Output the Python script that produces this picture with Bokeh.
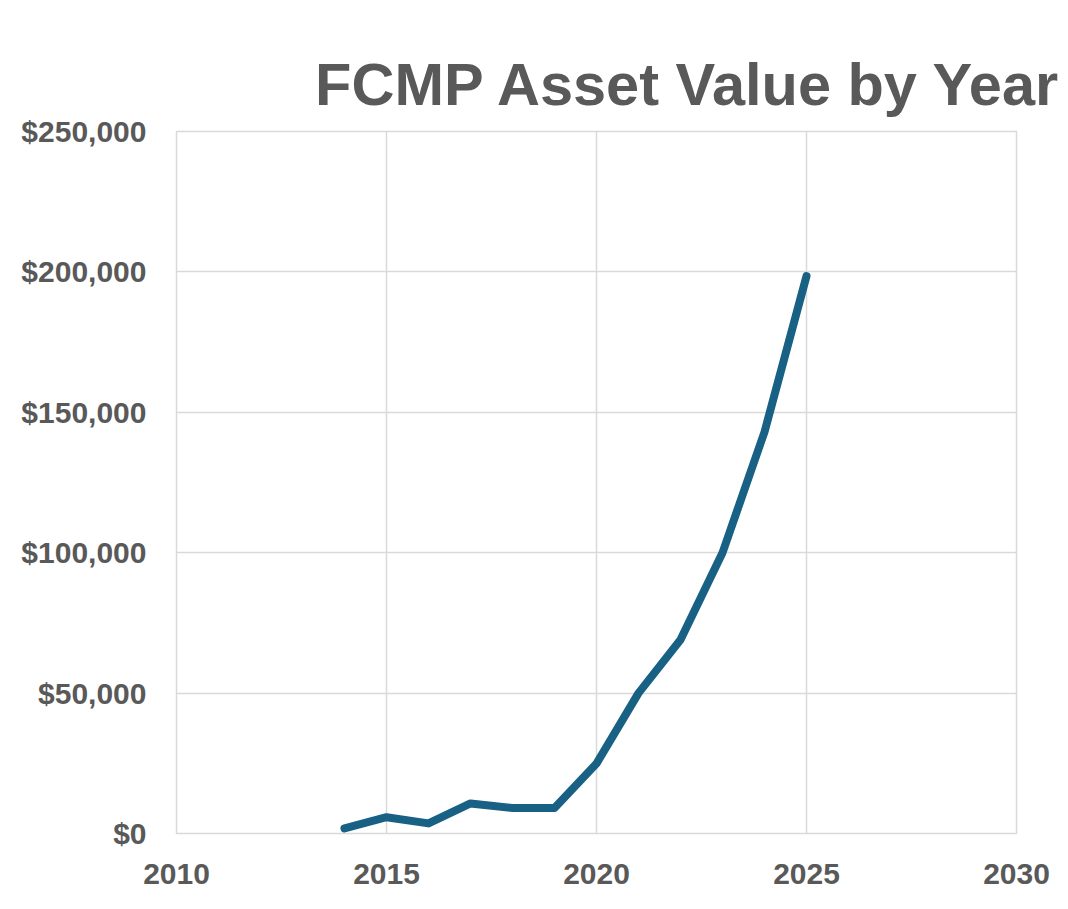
from bokeh.plotting import figure
from bokeh.models import Range1d, FixedTicker, NumeralTickFormatter
from bokeh.embed import file_html
from bokeh.resources import INLINE

years = [2014, 2015, 2016, 2017, 2018, 2019, 2020, 2021, 2022, 2023, 2024, 2025]
values = [1800, 5800, 3600, 10700, 9100, 9100, 24900, 50000, 69000, 100000, 143000, 198500]
x_ticks = [2010, 2015, 2020, 2025, 2030]
y_ticks = [0, 50000, 100000, 150000, 200000, 250000]
title_text = "FCMP Asset Value by Year"

GRAY = "#595959"
GRID = "#d9d9d9"

p = figure(width=1066, height=907, output_backend="svg", toolbar_location=None,
           x_range=Range1d(2010, 2030), y_range=Range1d(0, 250000),
           min_border_left=176, min_border_right=50, min_border_top=131, min_border_bottom=74,
           title=title_text)

p.title.align = "right"
p.title.text_font = "Liberation Sans"
p.title.text_font_style = "bold"
p.title.text_font_size = "59.5px"
p.title.text_color = GRAY
p.title.offset = -46
p.title.standoff = 28

p.line(years, values, line_color="#186184", line_width=8, line_cap="round", line_join="round")

for ax in (p.xaxis[0], p.yaxis[0]):
    ax.axis_line_color = None
    ax.major_tick_line_color = None
    ax.minor_tick_line_color = None
    ax.major_label_text_font = "Liberation Sans"
    ax.major_label_text_font_style = "bold"
    ax.major_label_text_font_size = "30px"
    ax.major_label_text_color = GRAY

p.xaxis.ticker = FixedTicker(ticks=x_ticks)
p.yaxis.ticker = FixedTicker(ticks=y_ticks)
p.yaxis.formatter = NumeralTickFormatter(format="$0,0")
p.xaxis.major_label_standoff = 24
p.yaxis.major_label_standoff = 24

p.xgrid.grid_line_color = GRID
p.ygrid.grid_line_color = GRID
p.xgrid.grid_line_width = 1.5
p.ygrid.grid_line_width = 1.5
p.outline_line_color = GRID
p.outline_line_width = 1.5

open("out.html", "w").write(file_html(p, INLINE))
